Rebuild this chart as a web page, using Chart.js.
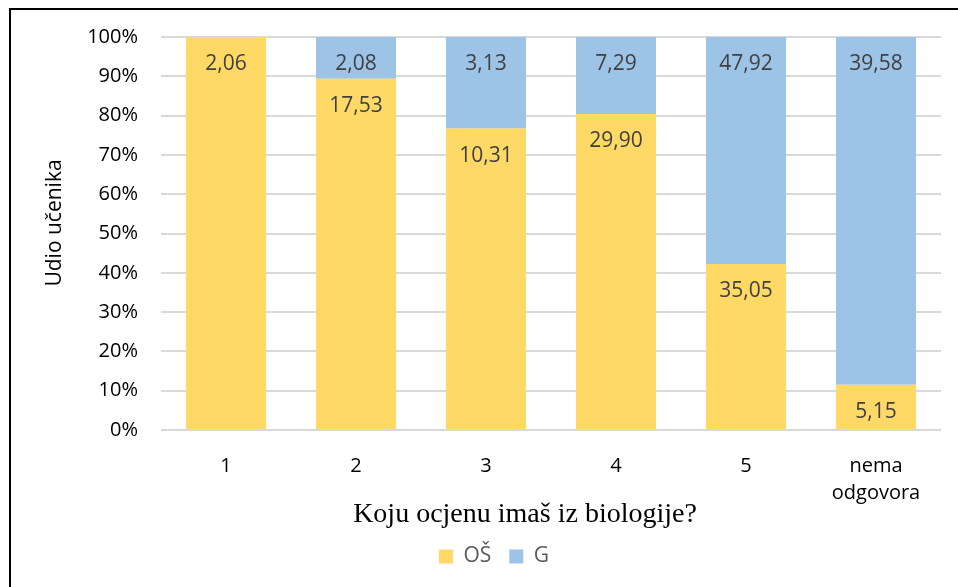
<!DOCTYPE html>
<html>
<head>
<meta charset="utf-8">
<script src="https://cdn.jsdelivr.net/npm/chart.js@4.4.1/dist/chart.umd.min.js"></script>
<style>
  html, body { margin: 0; padding: 0; background: #fff; overflow: hidden; }
  #wrap { position: relative; width: 958px; height: 587px; }
</style>
</head>
<body>
<div id="wrap"><canvas id="chart" width="958" height="587"></canvas></div>
<script>
// ── Data ───────────────────────────────────────────
const categories = ["1", "2", "3", "4", "5", ["nema", "odgovora"]];
const osValues   = [2.06, 17.53, 10.31, 29.90, 35.05, 5.15];
const gValues    = [null, 2.08, 3.13, 7.29, 47.92, 39.58];
const seriesNames = ["OŠ", "G"];
const yTickStep  = 10;

const xTitle = "Koju ocjenu imaš iz biologije?";
const yTitle = "Udio učenika";

// 100% stacked: share of each series within its category
function share(vals, other) {
  return vals.map((v, i) => {
    const total = (v || 0) + (other[i] || 0);
    return v == null ? null : v / total * 100;
  });
}

const COLORS = { os: "#FFD966", g: "#9DC3E6", grid: "#D9D9D9", label: "#404040", legend: "#595959" };
const SANS = "'Open Sans', sans-serif";

// ── Plugins ───────────────────────────────────────
const frameAndTitles = {
  id: "frameAndTitles",
  afterDraw(chart) {
    const ctx = chart.ctx;
    ctx.save();
    // outer frame (left + top edges visible)
    ctx.strokeStyle = "#000";
    ctx.lineWidth = 2;
    ctx.beginPath();
    ctx.moveTo(958, 9);
    ctx.lineTo(10, 9);
    ctx.lineTo(10, 587);
    ctx.stroke();

    // x axis title
    ctx.fillStyle = "#000";
    ctx.font = "28px 'Liberation Serif', 'Times New Roman', serif";
    ctx.textAlign = "center";
    ctx.textBaseline = "alphabetic";
    ctx.fillText(xTitle, 525, 522);

    // y axis title
    ctx.translate(61, 223);
    ctx.rotate(-Math.PI / 2);
    ctx.font = "21px " + SANS;
    ctx.fillText(yTitle, 0, 0);
    ctx.restore();
  }
};

const barLabels = {
  id: "barLabels",
  afterDatasetsDraw(chart) {
    const ctx = chart.ctx;
    ctx.save();
    ctx.font = "21px " + SANS;
    ctx.fillStyle = COLORS.label;
    ctx.textAlign = "center";
    ctx.textBaseline = "middle";
    const raws = [osValues, gValues];
    chart.data.datasets.forEach((ds, di) => {
      chart.getDatasetMeta(di).data.forEach((bar, i) => {
        const raw = raws[di][i];
        if (raw == null) return;
        const txt = raw.toFixed(2).replace(".", ",");
        ctx.fillText(txt, bar.x, bar.y + 27);
      });
    });
    ctx.restore();
  }
};

// ── Chart ─────────────────────────────────────────
new Chart(document.getElementById("chart"), {
  type: "bar",
  data: {
    labels: categories,
    datasets: [
      { label: seriesNames[0], data: share(osValues, gValues), backgroundColor: COLORS.os,
        barPercentage: 80 / 130, categoryPercentage: 1 },
      { label: seriesNames[1], data: share(gValues, osValues), backgroundColor: COLORS.g,
        barPercentage: 80 / 130, categoryPercentage: 1 },
    ]
  },
  options: {
    responsive: false,
    animation: false,
    layout: { padding: { top: 37, left: 47, right: 17, bottom: 10 } },
    plugins: {
      tooltip: { enabled: false },
      legend: {
        position: "bottom",
        labels: {
          color: COLORS.legend,
          font: { family: SANS, size: 21 },
          boxWidth: 14, boxHeight: 14, padding: 18,
        }
      }
    },
    scales: {
      x: {
        stacked: true,
        grid: { display: false },
        border: { display: false },
        ticks: { color: "#000", font: { family: SANS, size: 20, lineHeight: 1.35 }, padding: 15, maxRotation: 0 },
        afterFit(scale) { scale.height = 98; }
      },
      y: {
        stacked: true,
        min: 0, max: 100,
        grid: { color: COLORS.grid, lineWidth: 2, drawTicks: false },
        border: { display: false },
        ticks: {
          stepSize: yTickStep,
          color: "#000",
          font: { family: SANS, size: 20 },
          padding: 23,
          callback: v => v + "%"
        },
        afterFit(scale) { scale.width = 114; }
      }
    }
  },
  plugins: [barLabels, frameAndTitles]
});
</script>
</body>
</html>
